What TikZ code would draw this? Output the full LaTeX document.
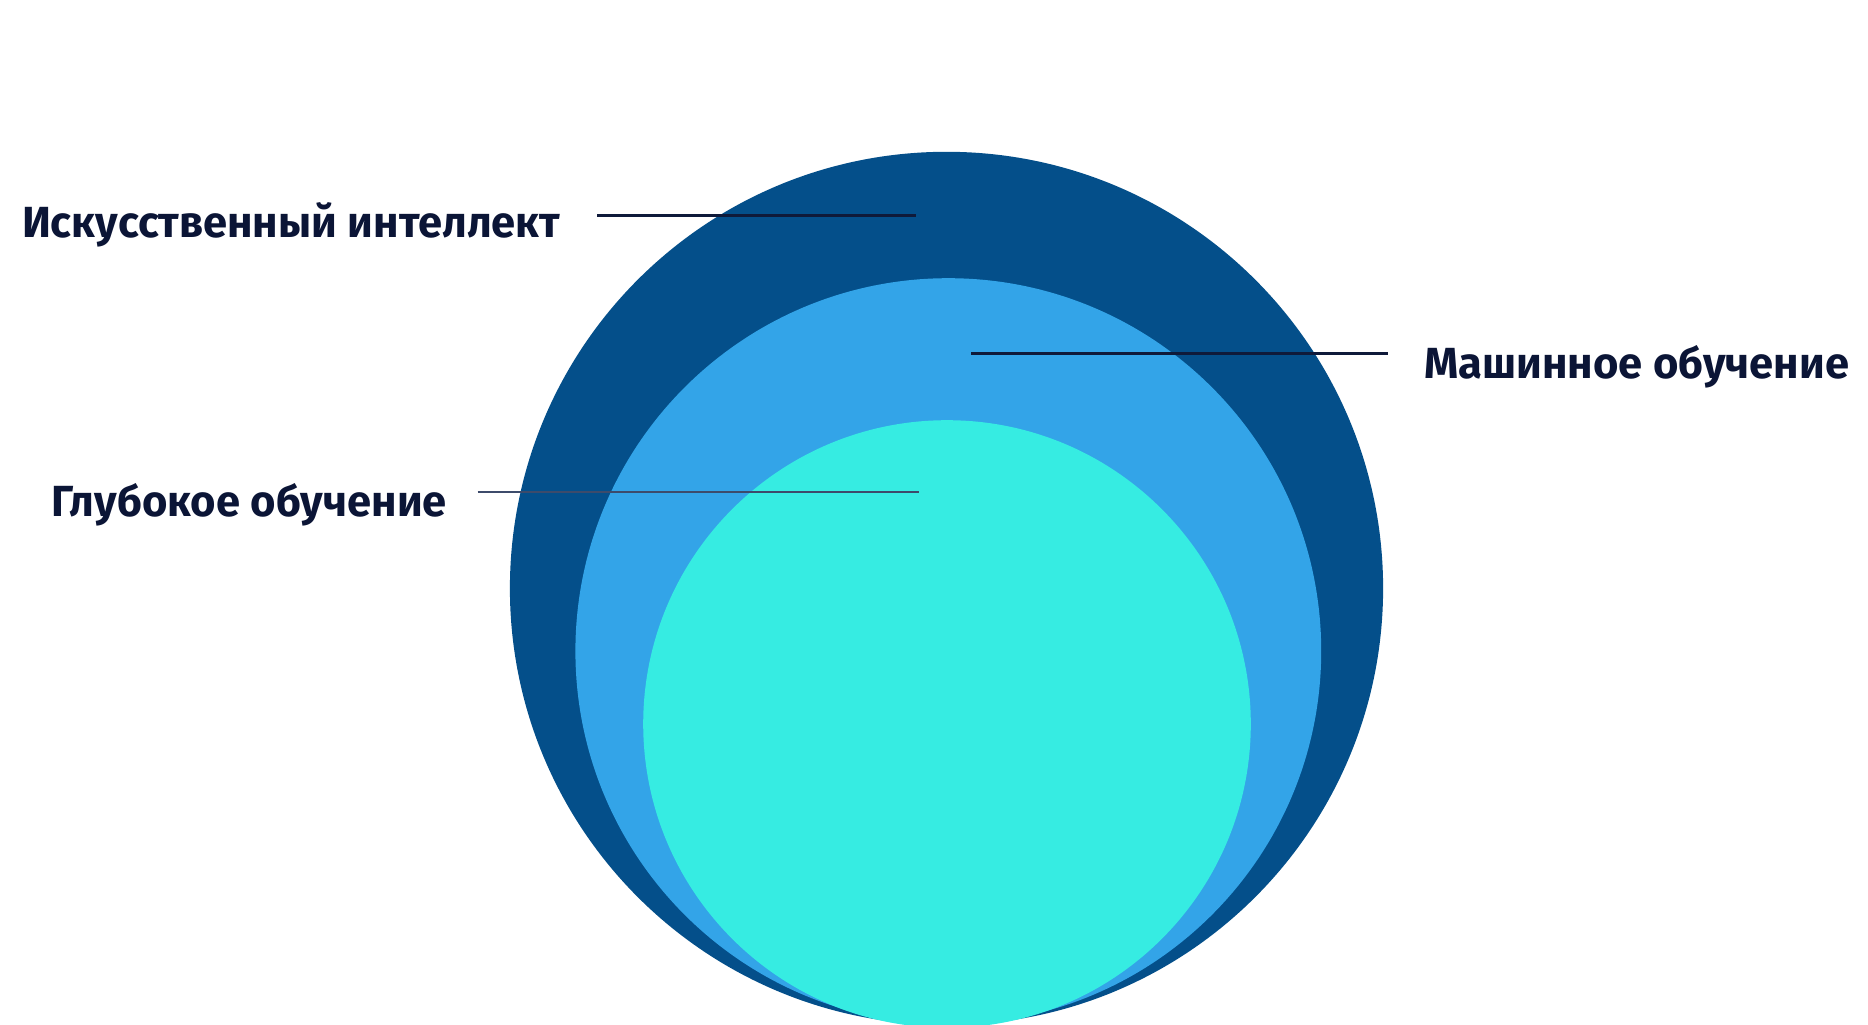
\documentclass[tikz,border=0pt]{standalone}
\usepackage{fontspec}
\setmainfont{Fira Sans}
\usetikzlibrary{positioning,calc}
\definecolor{aiCol}{HTML}{044F8A}
\definecolor{mlCol}{HTML}{33A4E8}
\definecolor{dlCol}{HTML}{36ECE2}
\definecolor{txtCol}{HTML}{0B1536}
\definecolor{leadCol}{HTML}{0F1A3A}
\definecolor{leadSoft}{HTML}{3D4B6B}
\tikzset{
  ring/.style={circle, draw=none, inner sep=0pt, minimum size=#1},
  lbl/.style={font=\fontsize{12.4}{15}\selectfont\bfseries, text=txtCol, inner sep=0pt},
  lead/.style={line width=0.75pt, draw=leadCol},
}

\begin{document}
\begin{tikzpicture}
  \useasboundingbox (0,0) rectangle (18.68,10.25);
  % nested sets
  \node[ring=8.732cm, fill=aiCol] (ai) at (9.465,4.366) {};
  \node[ring=7.458cm, fill=mlCol] (ml) at (9.483,3.739) {};
  \node[ring=6.076cm, fill=dlCol] (dl) at (9.470,3.010) {};

  % labels
  \node[lbl, anchor=base west] (ailbl) at (0.214,7.870) {Искусственный интеллект};
  \node[lbl, anchor=base west] (mllbl) at (14.236,6.462) {Машинное обучение};
  \node[lbl, anchor=base west] (dllbl) at (0.512,5.080) {Глубокое обучение};

  % leader lines
  \coordinate (aiend) at (9.16,8.094);
  \coordinate (mlend) at (9.71,6.712);
  \coordinate (dlend) at (9.185,5.330);
  \draw[lead] ([xshift=0.36cm]aiend -| ailbl.east) -- (aiend);
  \draw[lead] ([xshift=-0.36cm]mlend -| mllbl.west) -- (mlend);
  \draw[lead, draw=leadSoft] ([xshift=0.30cm]dlend -| dllbl.east) -- (dlend);
\end{tikzpicture}
\end{document}
